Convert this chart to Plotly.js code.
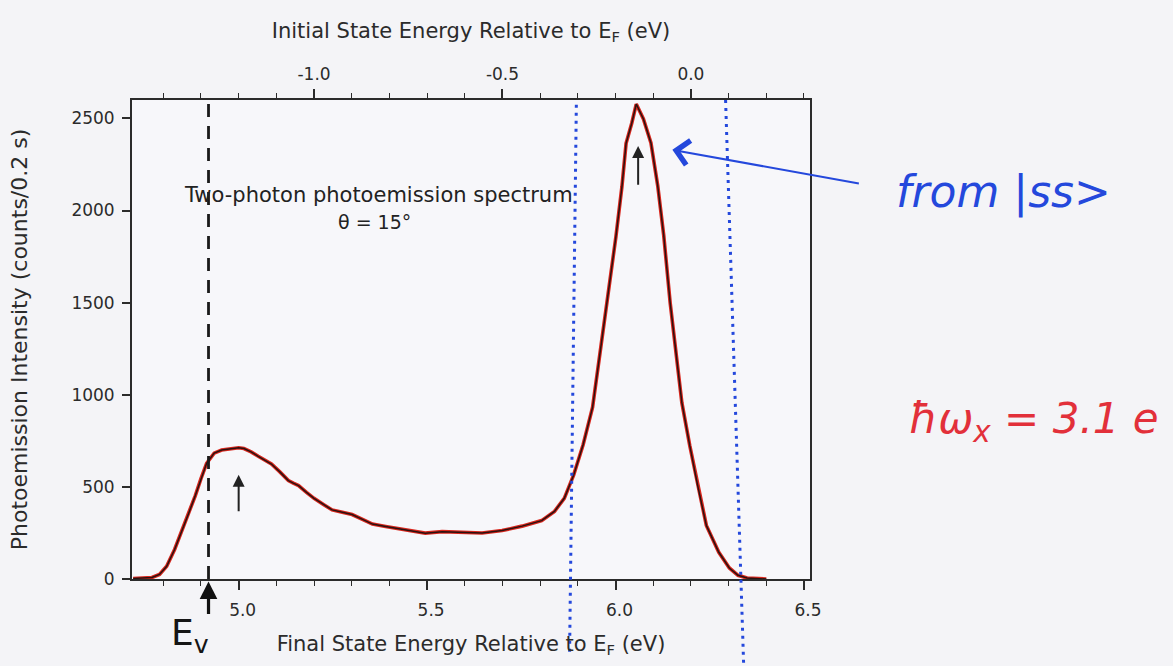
<!DOCTYPE html>
<html><head><meta charset="utf-8">
<script src="https://cdn.plot.ly/plotly-3.0.1.min.js"></script>
<style>html,body{margin:0;padding:0;background:#f4f4f7;}#chart{width:1173px;height:666px;}</style>
</head><body><div id="chart"></div>
<script>
// ---- data ----
const finalEnergy = [4.72, 4.745, 4.77, 4.79, 4.809, 4.83, 4.852, 4.868, 4.885, 4.90, 4.915, 4.935, 4.955, 4.98, 5.0, 5.014, 5.033, 5.052, 5.07, 5.087, 5.11, 5.132, 5.145, 5.159, 5.18, 5.2, 5.225, 5.248, 5.275, 5.301, 5.33, 5.355, 5.39, 5.426, 5.46, 5.495, 5.54, 5.593, 5.646, 5.699, 5.752, 5.804, 5.838, 5.864, 5.889, 5.914, 5.939, 5.962, 5.983, 6.001, 6.017, 6.028, 6.043, 6.055, 6.074, 6.094, 6.112, 6.128, 6.145, 6.161, 6.176, 6.197, 6.218, 6.241, 6.274, 6.302, 6.325, 6.349, 6.38, 6.40];
const intensity = [3, 4, 8, 25, 69, 160, 272, 360, 453, 545, 628, 683, 700, 707, 712, 708, 690, 666, 645, 624, 580, 534, 520, 507, 470, 438, 405, 375, 362, 350, 322, 298, 285, 274, 262, 249, 257, 253, 250, 263, 287, 317, 367, 438, 565, 729, 931, 1274, 1585, 1858, 2130, 2365, 2474, 2578, 2497, 2367, 2134, 1863, 1499, 1228, 957, 724, 507, 291, 145, 60, 20, 5, 3, 0];

const photonEnergy = 3.1;               // eV, hand-written note
const twoPhoton = 2 * photonEnergy;     // offset between the two energy scales
const bottomTickVals = [5.0, 5.5, 6.0, 6.5];
const bottomTickText = ['5.0', '5.5', '6.0', '6.5'];
const topTickVals = [-1.0, -0.5, 0.0];
const topTickText = ['-1.0', '-0.5', '0.0'];
const yTickVals = [0, 500, 1000, 1500, 2000, 2500];
const yTickText = ['0', '500', '1000', '1500', '2000', '2500'];
const xRange = [4.717, 6.516];
const yRange = [0, 2600];

const vacuumLevel = 4.92;              // black dashed line (E_v)
const windowLow = [5.896, 5.878];      // blue dotted line, top / bottom
const windowHigh = [6.292, 6.34];      // blue dotted line, top / bottom
const bumpArrow = {x: 5.0, from: 360, to: 566};
const peakArrow = {x: 6.06, from: 2132, to: 2350};

// ---- helpers ----
const xp = v => (v - xRange[0]) / (xRange[1] - xRange[0]);
const FONT = 'DejaVu Sans, Open Sans, sans-serif';
const INK = '#2b2b2b';
const BLUE = '#2448dc';

const traces = [
  {x: finalEnergy, y: intensity, mode: 'lines', line: {color: '#d8261c', width: 3.6}, hoverinfo: 'skip', showlegend: false},
  {x: finalEnergy, y: intensity, mode: 'lines', line: {color: '#2a1210', width: 1.5}, showlegend: false},
  {x: finalEnergy.map(e => e - twoPhoton), y: intensity, xaxis: 'x2', mode: 'lines',
   line: {color: 'rgba(0,0,0,0)', width: 0}, hoverinfo: 'skip', showlegend: false}
];

const axisCommon = {
  showgrid: false, zeroline: false, showline: true, linecolor: INK, linewidth: 1.8,
  ticks: 'outside', tickcolor: INK, tickwidth: 1.5, ticklen: 9,
  tickfont: {family: FONT, size: 17, color: INK}
};

const layout = {
  width: 1173, height: 666,
  margin: {l: 132, r: 363, t: 100, b: 87},
  paper_bgcolor: '#f4f4f7', plot_bgcolor: '#f7f7fa',
  showlegend: false,
  xaxis: Object.assign({}, axisCommon, {
    range: xRange, tickmode: 'array', tickvals: bottomTickVals, ticktext: bottomTickText,
    mirror: false, ticklabelstandoff: 6, ticklabelshift: 4,
    minor: {dtick: 0.1, tick0: 0, ticks: 'outside', ticklen: 5, tickcolor: INK, tickwidth: 1.3},
    title: {text: 'Final State Energy Relative to E<sub>F</sub> (eV)', standoff: 17,
            font: {family: FONT, size: 21, color: INK}}
  }),
  xaxis2: Object.assign({}, axisCommon, {
    overlaying: 'x', side: 'top', anchor: 'y',
    range: [xRange[0] - twoPhoton, xRange[1] - twoPhoton],
    tickmode: 'array', tickvals: topTickVals, ticktext: topTickText, ticklabelstandoff: 2,
    minor: {dtick: 0.1, tick0: 0, ticks: 'outside', ticklen: 5, tickcolor: INK, tickwidth: 1.3},
    title: {text: 'Initial State Energy Relative to E<sub>F</sub> (eV)', standoff: 20,
            font: {family: FONT, size: 21, color: INK}}
  }),
  yaxis: Object.assign({}, axisCommon, {
    range: yRange, tickmode: 'array', tickvals: yTickVals, ticktext: yTickText,
    mirror: true, ticklen: 8, ticklabelstandoff: 4,
    title: {text: 'Photoemission Intensity (counts/0.2 s)', standoff: 38,
            font: {family: FONT, size: 22, color: INK}}
  }),
  shapes: [
    {type: 'line', xref: 'x', yref: 'paper', x0: vacuumLevel, x1: vacuumLevel, y0: 0, y1: 1,
     line: {color: '#1a1a1a', width: 2.8, dash: '13px,9px'}},
    {type: 'line', xref: 'paper', yref: 'paper', x0: xp(windowLow[0]), x1: xp(windowLow[1]), y0: 0.99, y1: -0.16,
     line: {color: BLUE, width: 3, dash: '3px,5px'}},
    {type: 'line', xref: 'paper', yref: 'paper', x0: xp(windowHigh[0]), x1: xp(windowHigh[1]), y0: 1.0, y1: -0.18,
     line: {color: BLUE, width: 3, dash: '3px,5px'}}
  ],
  annotations: [
    {x: 5.37, y: 2085, xref: 'x', yref: 'y', text: 'Two-photon photoemission spectrum', showarrow: false,
     xanchor: 'center', yanchor: 'middle', font: {family: FONT, size: 21, color: '#222'}},
    {x: 5.36, y: 1940, xref: 'x', yref: 'y', text: 'θ = 15°', showarrow: false,
     xanchor: 'center', yanchor: 'middle', font: {family: FONT, size: 19, color: '#222'}},
    // small black arrows
    {x: bumpArrow.x, y: bumpArrow.to, ax: bumpArrow.x, ay: bumpArrow.from, xref: 'x', yref: 'y', axref: 'x', ayref: 'y',
     text: '', showarrow: true, arrowhead: 2, arrowsize: 1.2, arrowwidth: 2, arrowcolor: '#222'},
    {x: peakArrow.x, y: peakArrow.to, ax: peakArrow.x, ay: peakArrow.from, xref: 'x', yref: 'y', axref: 'x', ayref: 'y',
     text: '', showarrow: true, arrowhead: 2, arrowsize: 1.2, arrowwidth: 2, arrowcolor: '#222'},
    // E_v arrow and label
    {x: vacuumLevel, y: -0.005, xref: 'x', yref: 'paper', ax: 0, ay: 34, text: '', showarrow: true,
     arrowhead: 2, arrowsize: 1.1, arrowwidth: 3.2, arrowcolor: '#111'},
    {x: 4.87, y: -0.118, xref: 'x', yref: 'paper', text: 'E<sub>v</sub>', showarrow: false,
     xanchor: 'center', yanchor: 'middle', font: {family: FONT, size: 36, color: '#151515'}},
    // blue hand-written note with arrow
    {x: 0.797, y: 0.896, xref: 'paper', yref: 'paper', ax: 188, ay: 34, text: '', showarrow: true,
     arrowhead: 4, arrowsize: 2.4, arrowwidth: 2, arrowcolor: BLUE},
    {x: 1.285, y: 0.808, xref: 'paper', yref: 'paper', text: '<i>from |ss&gt;</i>', showarrow: false,
     xanchor: 'center', yanchor: 'middle', font: {family: FONT, size: 44, color: BLUE}},
    // red hand-written note
    {x: 1.33, y: 0.328, xref: 'paper', yref: 'paper', text: '<i>ħω<sub>x</sub> = 3.1 e</i>', showarrow: false,
     xanchor: 'center', yanchor: 'middle', font: {family: FONT, size: 42, color: '#e2303a'}}
  ]
};

Plotly.newPlot('chart', traces, layout, {displayModeBar: false, responsive: false});
</script>
</body></html>
